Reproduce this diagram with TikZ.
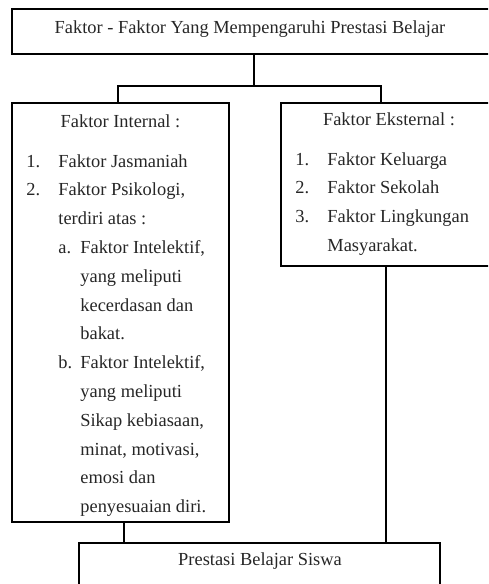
\documentclass[tikz,border=0pt]{standalone}
\usepackage{fontspec}
\setmainfont{Liberation Serif}
\begin{document}
\begin{tikzpicture}[x=0.5pt,y=-0.5pt,
  boxline/.style={draw=black,line width=1pt},
  txt/.style={inner sep=0pt,anchor=base west,font=\fontsize{9.2}{11}\selectfont,text=black!85},
  ctxt/.style={txt,anchor=base},
  conn/.style={draw=black,line width=1pt}]
\useasboundingbox (0,0) rectangle (488,584);
\clip (0,0) rectangle (488,584);
% boxes
\node[boxline,inner sep=0pt,minimum width=520pt*0.5,minimum height=45pt*0.5] (top) at (272,31.5) {};
\node[boxline,inner sep=0pt,minimum width=217pt*0.5,minimum height=419pt*0.5] (int) at (120.5,312.5) {};
\node[boxline,inner sep=0pt,minimum width=260pt*0.5,minimum height=163pt*0.5] (ext) at (411,184.5) {};
\node[boxline,inner sep=0pt,minimum width=361pt*0.5,minimum height=90pt*0.5] (hasil) at (259.5,588) {};
% texts
\node[ctxt] (ttop) at (250,33) {Faktor - Faktor Yang Mempengaruhi Prestasi Belajar};
\node[ctxt] (tint) at (120.5,127) {Faktor Internal :};
\node[txt] (i1n) at (26,167) {1.};
\node[txt] (i1) at (58,167) {Faktor Jasmaniah};
\node[txt] (i2n) at (26,195.8) {2.};
\node[txt] (i2) at (58,195.8) {Faktor Psikologi,};
\node[txt] (i3) at (58,224.6) {terdiri atas :};
\node[txt] (ian) at (58,253.4) {a.};
\node[txt] (ia1) at (80,253.4) {Faktor Intelektif,};
\node[txt] (ia2) at (80,282.2) {yang meliputi};
\node[txt] (ia3) at (80,311) {kecerdasan dan};
\node[txt] (ia4) at (80,339.8) {bakat.};
\node[txt] (ibn) at (58,368.6) {b.};
\node[txt] (ib1) at (80,368.6) {Faktor Intelektif,};
\node[txt] (ib2) at (80,397.4) {yang meliputi};
\node[txt] (ib3) at (80,426.2) {Sikap kebiasaan,};
\node[txt] (ib4) at (80,455) {minat, motivasi,};
\node[txt] (ib5) at (80,483.8) {emosi dan};
\node[txt] (ib6) at (80,512.6) {penyesuaian diri.};
\node[ctxt] (text) at (389,125) {Faktor Eksternal :};
\node[txt] (e1n) at (295,165) {1.};
\node[txt] (e1) at (327,165) {Faktor Keluarga};
\node[txt] (e2n) at (295,193.8) {2.};
\node[txt] (e2) at (327,193.8) {Faktor Sekolah};
\node[txt] (e3n) at (295,222.6) {3.};
\node[txt] (e3) at (327,222.6) {Faktor Lingkungan};
\node[txt] (e4) at (327,251.4) {Masyarakat.};
\node[ctxt] (thasil) at (260,565) {Prestasi Belajar Siswa};
% connectors
\coordinate (split) at (254,86);
\draw[conn] (top.south -| split) -- (split);
\draw[conn] (int.north -| 118,0) |- (split) -| (ext.north -| 381,0);
\draw[conn] (int.south -| 124,0) -- (hasil.north -| 124,0);
\draw[conn] (ext.south -| 386,0) -- (hasil.north -| 386,0);
\end{tikzpicture}
\end{document}
